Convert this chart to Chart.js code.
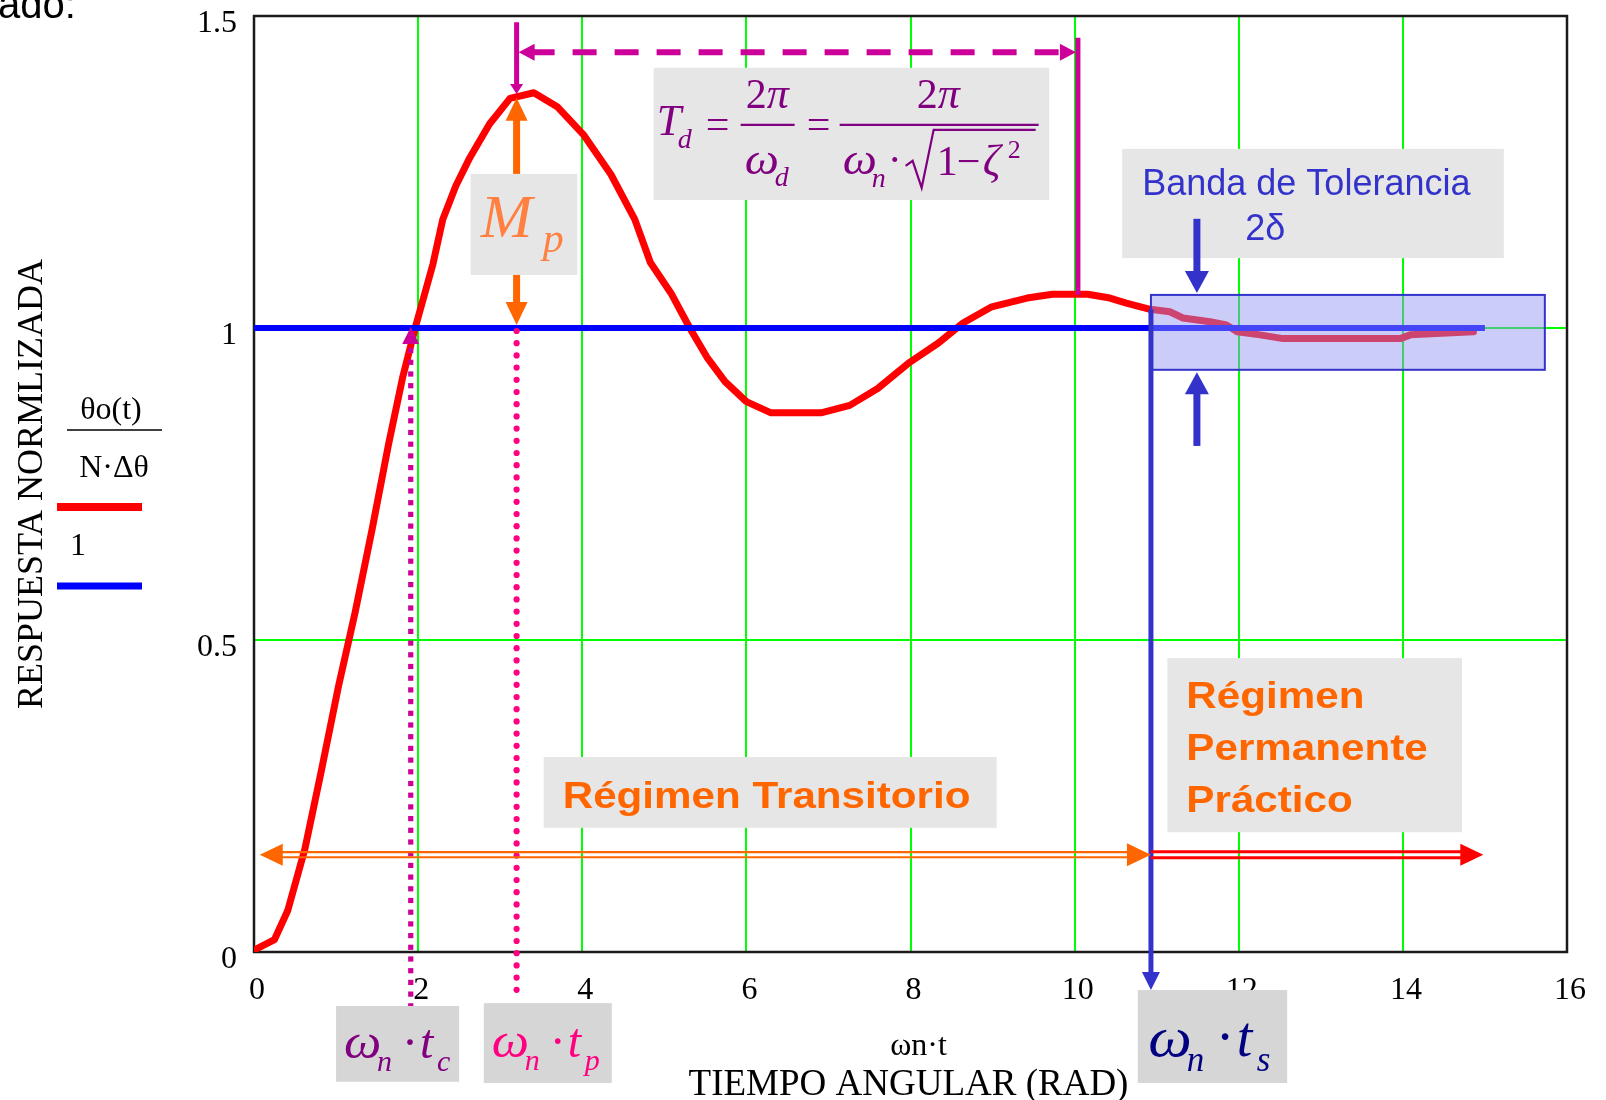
<!DOCTYPE html>
<html>
<head>
<meta charset="utf-8">
<script src="https://cdn.jsdelivr.net/npm/chart.js@4.4.1/dist/chart.umd.min.js"></script>
<style>
  html, body { margin: 0; padding: 0; background: #fff; }
  #wrap { width: 1606px; height: 1100px; overflow: hidden; }
</style>
</head>
<body>
<div id="wrap"><canvas id="respuesta" width="1606" height="1100"></canvas></div>
<script>
// respuesta normalizada de un sistema de 2º orden subamortiguado
const wnt = [0, 0.25, 0.41, 0.62, 0.82, 1.03, 1.23, 1.44, 1.64, 1.81,
  1.97, 2.18, 2.30, 2.46, 2.63, 2.87, 3.12, 3.41, 3.70, 4.02,
  4.35, 4.64, 4.83, 5.09, 5.31, 5.52, 5.74, 6.00, 6.30, 6.91,
  7.26, 7.60, 7.99, 8.34, 8.64, 8.99, 9.42, 9.73, 10.16, 10.43,
  10.63, 10.92, 11.16, 11.32, 11.65, 11.85, 11.98, 12.26, 12.54, 13.97,
  14.09, 14.41, 14.86];
const respuesta = [0.003, 0.02, 0.066, 0.165, 0.29, 0.426, 0.543, 0.678, 0.814, 0.92,
  1.003, 1.102, 1.174, 1.228, 1.273, 1.327, 1.368, 1.377, 1.354, 1.309,
  1.246, 1.174, 1.105, 1.054, 1.0, 0.953, 0.914, 0.882, 0.864, 0.864,
  0.876, 0.903, 0.945, 0.976, 1.008, 1.034, 1.048, 1.054, 1.054, 1.048,
  1.04, 1.03, 1.026, 1.016, 1.01, 1.005, 0.994, 0.989, 0.983, 0.983,
  0.989, 0.991, 0.994];

// referencia (escalón unitario)
const refT = [0, 15];
const refValor = [1, 1];

const ticksX = [0, 2, 4, 6, 8, 10, 12, 14, 16];
const etiquetasX = ["0", "2", "4", "6", "8", "10", "12", "14", "16"];
const ticksY = [0, 0.5, 1, 1.5];
const etiquetasY = ["0", "0.5", "1", "1.5"];

// instantes característicos (en ωn·t) y valores de la respuesta
const wnTc = 1.91;
const wnTp = 3.2;
const picoMp = 1.375;
const finTd = 10.04;
const nivelTd = 1.053;
const wnTs = 10.93;
const bandaSup = 1.053;
const bandaInf = 0.933;
const bandaFin = 15.73;

const SERIF = '"Liberation Serif", "Times New Roman", serif';
const SANS = '"Liberation Sans", Arial, sans-serif';
const MORADO = "#800080";
const MAGENTA = "#cc0099";
const NARANJA = "#ff6600";
const AZUL_BANDA = "#3333cc";
const GRIS = "#e6e6e6";
const GRIS_OSC = "#d6d6d6";

function punta(ctx, x, y, ang, largo, ancho) {
  const c = Math.cos(ang), s = Math.sin(ang);
  ctx.beginPath();
  ctx.moveTo(x, y);
  ctx.lineTo(x - largo * c - (ancho / 2) * s, y - largo * s + (ancho / 2) * c);
  ctx.lineTo(x - largo * c + (ancho / 2) * s, y - largo * s - (ancho / 2) * c);
  ctx.closePath();
  ctx.fill();
}

function segmento(ctx, x1, y1, x2, y2) {
  ctx.beginPath();
  ctx.moveTo(x1, y1);
  ctx.lineTo(x2, y2);
  ctx.stroke();
}

function texto(ctx, s, x, y, font, color, align = "left", sx = 1) {
  ctx.save();
  ctx.font = font;
  ctx.fillStyle = color;
  ctx.textAlign = align;
  ctx.textBaseline = "alphabetic";
  ctx.translate(x, y);
  ctx.scale(sx, 1);
  ctx.fillText(s, 0, 0);
  ctx.restore();
}

function caja(ctx, X, Y, c, color) {
  const l = X(c[0]), r = X(c[1]), t = Y(c[2]), b = Y(c[3]);
  ctx.fillStyle = color;
  ctx.fillRect(l, t, r - l, b - t);
  return { l, t, r, b };
}

// ω_n · t_x
function etiquetaTiempo(ctx, b, sub, color, g, p) {
  const it = "italic " + g + "px " + SERIF;
  const is = "italic " + p + "px " + SERIF;
  const k = g / 48;
  texto(ctx, "ω", b.l + 8 * k, b.t + 52 * k, it, color, "left", 1.1);
  texto(ctx, "n", b.l + 41 * k, b.t + 65 * k, is, color);
  texto(ctx, "·", b.l + 74 * k, b.t + 52 * k, g + "px " + SERIF, color, "center");
  texto(ctx, "t", b.l + 84 * k, b.t + 52 * k, it, color);
  texto(ctx, sub, b.l + 101 * k, b.t + 65 * k, is, color);
}

const marco = {
  id: "marco",
  beforeDatasetsDraw(chart) {
    const { ctx, chartArea: a } = chart;
    ctx.save();
    ctx.strokeStyle = "#1a1a1a";
    ctx.lineWidth = 2.5;
    ctx.strokeRect(a.left, a.top, a.right - a.left, a.bottom - a.top);
    ctx.restore();
  },
};

const anotaciones = {
  id: "anotaciones",
  afterDatasetsDraw(chart) {
    const { ctx, scales } = chart;
    const X = (v) => scales.x.getPixelForValue(v);
    const Y = (v) => scales.y.getPixelForValue(v);
    ctx.save();
    ctx.lineCap = "butt";

    // banda de tolerancia
    const bl = X(wnTs), br = X(bandaFin), bt = Y(bandaSup), bb = Y(bandaInf);
    ctx.fillStyle = "rgba(146,146,240,0.47)";
    ctx.fillRect(bl, bt, br - bl, bb - bt);
    ctx.strokeStyle = AZUL_BANDA;
    ctx.lineWidth = 2;
    ctx.strokeRect(bl, bt, br - bl, bb - bt);

    // ωn·ts
    ctx.strokeStyle = AZUL_BANDA;
    ctx.fillStyle = AZUL_BANDA;
    ctx.lineWidth = 5;
    segmento(ctx, X(wnTs), Y(1.03), X(wnTs), Y(-0.061) - 16);
    punta(ctx, X(wnTs), Y(-0.061), Math.PI / 2, 18, 18);

    // periodo amortiguado Td
    ctx.strokeStyle = MAGENTA;
    ctx.fillStyle = MAGENTA;
    ctx.lineWidth = 5;
    segmento(ctx, X(wnTp), Y(1.49), X(wnTp), Y(picoMp) - 8);
    punta(ctx, X(wnTp), Y(picoMp), Math.PI / 2, 10, 13);
    segmento(ctx, X(finTd), Y(1.465), X(finTd), Y(nivelTd));
    const yd = Y(1.442);
    ctx.lineWidth = 6;
    ctx.setLineDash([24, 18]);
    segmento(ctx, X(wnTp) + 14, yd, X(finTd) - 14, yd);
    ctx.setLineDash([]);
    punta(ctx, X(wnTp) + 2, yd, Math.PI, 16, 17);
    punta(ctx, X(finTd) - 2, yd, 0, 16, 17);

    // sobreimpulso Mp
    ctx.strokeStyle = NARANJA;
    ctx.fillStyle = NARANJA;
    ctx.lineWidth = 7;
    const ym1 = Y(1.369), ym0 = Y(1.005);
    segmento(ctx, X(wnTp), ym1 + 20, X(wnTp), ym0 - 20);
    punta(ctx, X(wnTp), ym1, -Math.PI / 2, 23, 22);
    punta(ctx, X(wnTp), ym0, Math.PI / 2, 23, 22);

    // ωn·tc: puntos cuadrados
    ctx.fillStyle = MAGENTA;
    const xc = X(wnTc);
    for (let yy = Y(1) + 20; yy < Y(-0.085); yy += 11.7) {
      ctx.fillRect(xc - 2.6, yy, 5.2, 5.2);
    }
    punta(ctx, xc, Y(1) - 1, -Math.PI / 2, 17, 17);

    // ωn·tp: puntos redondos
    ctx.fillStyle = "#ff0080";
    const xp = X(wnTp);
    for (let yy = Y(1) + 3; yy < Y(-0.069); yy += 12.2) {
      ctx.beginPath();
      ctx.arc(xp, yy, 3.1, 0, Math.PI * 2);
      ctx.fill();
    }

    // cajas de texto
    const td = caja(ctx, X, Y, [4.87, 9.69, 1.417, 1.205], GRIS);
    const fi = "italic 44px " + SERIF, fr = "42px " + SERIF, fs = "italic 28px " + SERIF;
    texto(ctx, "T", td.l + 3, td.t + 67, fi, MORADO);
    texto(ctx, "d", td.l + 24, td.t + 80, fs, MORADO);
    texto(ctx, "=", td.l + 52, td.t + 70, fr, MORADO);
    texto(ctx, "2", td.l + 92, td.t + 40, fr, MORADO);
    texto(ctx, "π", td.l + 113, td.t + 40, fi, MORADO);
    texto(ctx, "ω", td.l + 91, td.t + 106, fi, MORADO, "left", 1.1);
    texto(ctx, "d", td.l + 121, td.t + 118, fs, MORADO);
    texto(ctx, "=", td.l + 153, td.t + 70, fr, MORADO);
    texto(ctx, "2", td.l + 263, td.t + 40, fr, MORADO);
    texto(ctx, "π", td.l + 284, td.t + 40, fi, MORADO);
    texto(ctx, "ω", td.l + 189, td.t + 106, fi, MORADO, "left", 1.1);
    texto(ctx, "n", td.l + 218, td.t + 119, fs, MORADO);
    texto(ctx, "·", td.l + 241, td.t + 106, fr, MORADO, "center");
    texto(ctx, "1", td.l + 283, td.t + 107, fr, MORADO);
    texto(ctx, "−", td.l + 303, td.t + 107, fr, MORADO);
    texto(ctx, "ζ", td.l + 329, td.t + 107, fi, MORADO);
    texto(ctx, "2", td.l + 354, td.t + 90, "26px " + SERIF, MORADO);
    ctx.strokeStyle = MORADO;
    ctx.lineWidth = 2.2;
    segmento(ctx, td.l + 87, td.t + 57, td.l + 141, td.t + 57);
    segmento(ctx, td.l + 186, td.t + 57, td.l + 385, td.t + 57);
    ctx.beginPath();
    ctx.moveTo(td.l + 252, td.t + 98);
    ctx.lineTo(td.l + 259, td.t + 93);
    ctx.lineTo(td.l + 268, td.t + 120);
    ctx.lineTo(td.l + 280, td.t + 62);
    ctx.lineTo(td.l + 382, td.t + 62);
    ctx.stroke();

    const mp = caja(ctx, X, Y, [2.64, 3.94, 1.247, 1.085], GRIS);
    texto(ctx, "M", mp.l + 10, mp.t + 63, "italic 62px " + SERIF, "#ff8040");
    texto(ctx, "p", mp.l + 72, mp.t + 78, "italic 42px " + SERIF, "#ff8040");

    const bd = caja(ctx, X, Y, [10.58, 15.23, 1.287, 1.112], GRIS);
    texto(ctx, "Banda de Tolerancia", bd.l + 20, bd.t + 46, "36px " + SANS, AZUL_BANDA);
    texto(ctx, "2δ", bd.l + 123, bd.t + 91, "36px " + SANS, AZUL_BANDA);

    // flechas que señalan la banda
    ctx.strokeStyle = AZUL_BANDA;
    ctx.fillStyle = AZUL_BANDA;
    ctx.lineWidth = 7;
    const xb = X(11.49);
    segmento(ctx, xb, Y(1.175), xb, Y(1.056) - 20);
    punta(ctx, xb, Y(1.056), Math.PI / 2, 22, 24);
    segmento(ctx, xb, Y(0.811), xb, Y(0.929) + 20);
    punta(ctx, xb, Y(0.929), -Math.PI / 2, 22, 24);

    const tr = caja(ctx, X, Y, [3.53, 9.05, 0.3125, 0.199], GRIS);
    const fb = "bold 37px " + SANS;
    texto(ctx, "Régimen Transitorio", tr.l + 19, tr.t + 51, fb, NARANJA, "left", 1.14);

    const pm = caja(ctx, X, Y, [11.13, 14.72, 0.471, 0.192], GRIS);
    texto(ctx, "Régimen", pm.l + 19, pm.t + 50, fb, NARANJA, "left", 1.14);
    texto(ctx, "Permanente", pm.l + 19, pm.t + 102, fb, NARANJA, "left", 1.14);
    texto(ctx, "Práctico", pm.l + 19, pm.t + 154, fb, NARANJA, "left", 1.14);

    // régimen transitorio / permanente
    const yr = Y(0.156);
    ctx.lineWidth = 2.2;
    ctx.strokeStyle = NARANJA;
    ctx.fillStyle = NARANJA;
    segmento(ctx, X(0.07) + 20, yr - 2.6, X(wnTs) - 20, yr - 2.6);
    segmento(ctx, X(0.07) + 20, yr + 2.6, X(wnTs) - 20, yr + 2.6);
    punta(ctx, X(0.07), yr, Math.PI, 23, 22);
    punta(ctx, X(wnTs), yr, 0, 24, 23);
    ctx.lineWidth = 3;
    ctx.strokeStyle = "#ff0000";
    ctx.fillStyle = "#ff0000";
    segmento(ctx, X(wnTs), yr - 3, X(14.98) - 20, yr - 3);
    segmento(ctx, X(wnTs), yr + 3, X(14.98) - 20, yr + 3);
    punta(ctx, X(14.98), yr, 0, 23, 22);

    // etiquetas bajo el eje
    const tc = caja(ctx, X, Y, [1.0, 2.5, -0.0865, -0.208], GRIS_OSC);
    etiquetaTiempo(ctx, tc, "c", MORADO, 48, 30);
    const tp = caja(ctx, X, Y, [2.80, 4.36, -0.082, -0.21], GRIS_OSC);
    etiquetaTiempo(ctx, { l: tp.l, t: tp.t + 2 }, "p", "#ff0080", 48, 30);
    const ts = caja(ctx, X, Y, [10.77, 12.59, -0.061, -0.21], GRIS_OSC);
    etiquetaTiempo(ctx, { l: ts.l + 1, t: ts.t + 5 }, "s", "#000080", 56, 35);

    ctx.restore();
  },
  afterDraw(chart) {
    const { ctx, chartArea: a } = chart;
    ctx.save();
    // títulos de los ejes
    const cx = (a.left + a.right) / 2;
    texto(ctx, "ωn·t", cx + 8, 1055, "32px " + SERIF, "#000", "center");
    texto(ctx, "TIEMPO ANGULAR (RAD)", cx - 2, 1095, "37px " + SERIF, "#000", "center");
    ctx.save();
    ctx.translate(42, (a.top + a.bottom) / 2);
    ctx.rotate(-Math.PI / 2);
    texto(ctx, "RESPUESTA NORMLIZADA", 0, 0, "36px " + SERIF, "#000", "center");
    ctx.restore();

    // leyenda de las curvas
    texto(ctx, "θo(t)", 111, 419, "32px " + SERIF, "#000", "center");
    ctx.strokeStyle = "#000";
    ctx.lineWidth = 1.5;
    segmento(ctx, 67, 430, 162, 430);
    texto(ctx, "N·Δθ", 114, 477, "32px " + SERIF, "#000", "center");
    ctx.lineWidth = 8;
    ctx.strokeStyle = "#ff0000";
    segmento(ctx, 57, 507, 142, 507);
    texto(ctx, "1", 70, 555, "32px " + SERIF, "#000");
    ctx.lineWidth = 7;
    ctx.strokeStyle = "#0000ff";
    segmento(ctx, 57, 586, 142, 586);

    texto(ctx, "ado:", -2, 18, "40px " + SANS, "#000");
    ctx.restore();
  },
};

const ctx = document.getElementById("respuesta");

new Chart(ctx, {
  type: "line",
  data: {
    datasets: [
      {
        label: "1",
        data: refT.map((t, i) => ({ x: t, y: refValor[i] })),
        borderColor: "#0000ff",
        borderWidth: 6,
        borderCapStyle: "butt",
        order: 1,
      },
      {
        label: "θo(t)/(N·Δθ)",
        data: wnt.map((t, i) => ({ x: t, y: respuesta[i] })),
        borderColor: "#ff0000",
        borderWidth: 7,
        order: 2,
      },
    ],
  },
  options: {
    responsive: false,
    animation: false,
    devicePixelRatio: 1,
    layout: { padding: { top: 16, right: 39, bottom: 0, left: 0 } },
    elements: {
      point: { radius: 0 },
      line: { tension: 0, borderJoinStyle: "round", borderCapStyle: "round" },
    },
    plugins: { legend: { display: false }, tooltip: { enabled: false } },
    scales: {
      x: {
        type: "linear",
        min: 0,
        max: 16,
        afterBuildTicks: (s) => {
          s.ticks = ticksX.map((v) => ({ value: v }));
        },
        afterFit: (s) => {
          s.height = 148;
          s.paddingLeft = 0;
          s.paddingRight = 0;
        },
        grid: { color: "#00ff00", lineWidth: 2, drawTicks: false },
        border: { display: false },
        ticks: {
          color: "#000",
          font: { family: SERIF, size: 32 },
          padding: 19,
          labelOffset: 3,
          maxRotation: 0,
          autoSkip: false,
          callback: (v, i) => etiquetasX[i],
        },
      },
      y: {
        type: "linear",
        min: 0,
        max: 1.5,
        afterBuildTicks: (s) => {
          s.ticks = ticksY.map((v) => ({ value: v }));
        },
        afterFit: (s) => {
          s.width = 254;
          s.paddingTop = 0;
          s.paddingBottom = 0;
        },
        grid: { color: "#00ff00", lineWidth: 2, drawTicks: false },
        border: { display: false },
        ticks: {
          color: "#000",
          font: { family: SERIF, size: 32 },
          padding: 17,
          labelOffset: 8,
          autoSkip: false,
          callback: (v, i) => etiquetasY[i],
        },
      },
    },
  },
  plugins: [marco, anotaciones],
});
</script>
</body>
</html>
